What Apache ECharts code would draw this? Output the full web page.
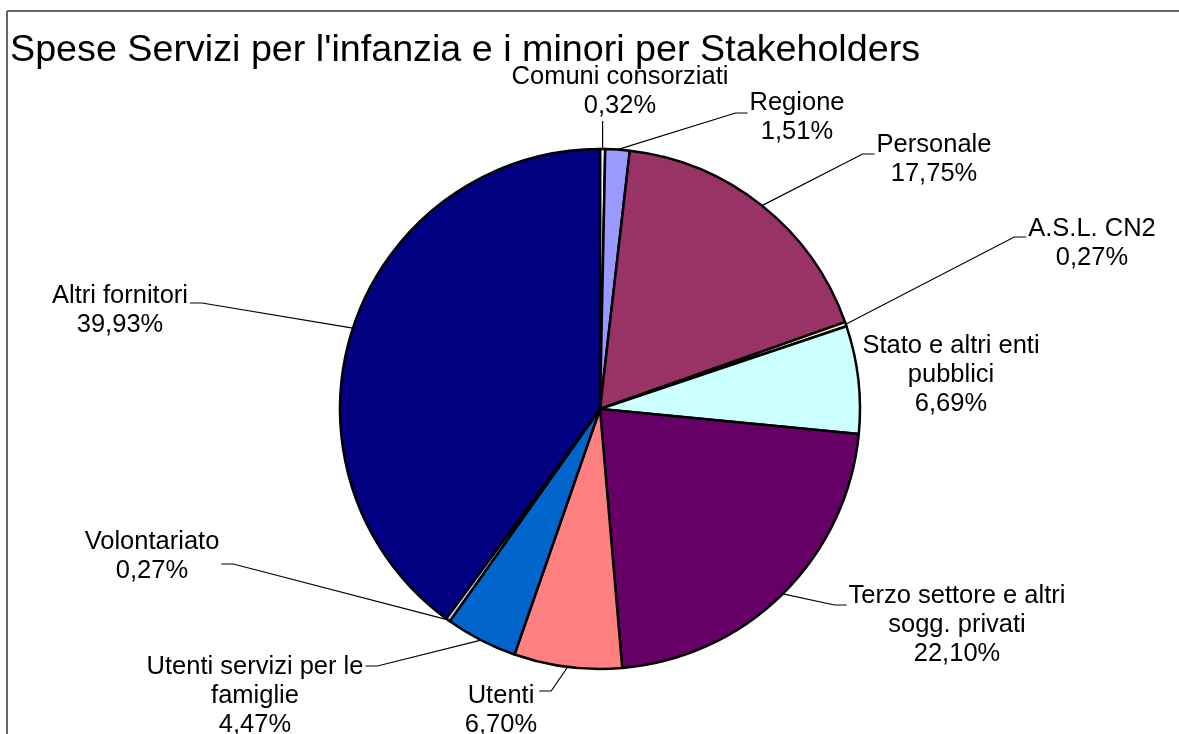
<!DOCTYPE html>
<html>
<head>
<meta charset="utf-8">
<script src="https://cdn.jsdelivr.net/npm/echarts@6/dist/echarts.min.js"></script>
<style>
html,body{margin:0;padding:0;background:#fff;}
#chart{width:1179px;height:734px;}
</style>
</head>
<body>
<div id="chart"></div>
<script>
// ---- data ----
const categories = [
  "Comuni consorziati",
  "Regione",
  "Personale",
  "A.S.L. CN2",
  "Stato e altri enti\npubblici",
  "Terzo settore e altri\nsogg. privati",
  "Utenti",
  "Utenti servizi per le\nfamiglie",
  "Volontariato",
  "Altri fornitori"
];
const shares = [0.32, 1.51, 17.75, 0.27, 6.69, 22.10, 6.70, 4.47, 0.27, 39.93];

// ---- styling / layout (separate from data) ----
const sliceColors = ["#F2F2FF", "#9999FF", "#993366", "#FFFFCC", "#CCFFFF",
                     "#660066", "#FF8080", "#0066CC", "#CCCCFF", "#000080"];
// label block centres (pixels), one per slice
const labelCenters = [
  [620, 91], [797, 117], [934, 159], [1092, 243], [951, 375],
  [957, 625], [501, 710], [255, 696], [152, 556], [120, 310]
];
// leader attach side and vertical offset from block centre
const leaderAttach = [
  ['bottom', 0], ['left', -4], ['left', -5], ['left', -6], ['none', 0],
  ['left', -20], ['right', -19], ['right', -30], ['right', 8], ['right', -7]
];

const FONT = "'Liberation Sans', Arial, sans-serif";
const CX = 600, CY = 409, R = 260;

const chart = echarts.init(document.getElementById('chart'), null, {renderer: 'canvas'});

const total = shares.reduce((a, b) => a + b, 0);
const midAngles = [];
let cum = 0;
shares.forEach(v => { midAngles.push((cum + v / 2) / total * 2 * Math.PI); cum += v; });

const pieData = categories.map((name, i) => ({
  name: name,
  value: shares[i],
  itemStyle: { color: sliceColors[i] },
  labelLine: { show: leaderAttach[i][0] !== 'none' }
}));

chart.setOption({
  animation: false,
  backgroundColor: '#ffffff',
  title: {
    text: "Spese Servizi per l'infanzia e i minori per Stakeholders",
    left: 10,
    top: 32,
    padding: 0,
    textStyle: { fontFamily: FONT, fontSize: 37.7, fontWeight: 'normal', color: '#000' }
  },
  graphic: [
    { type: 'line', shape: { x1: 7, y1: 11, x2: 1179, y2: 11 }, style: { stroke: '#666', lineWidth: 2 } },
    { type: 'line', shape: { x1: 7, y1: 11, x2: 7, y2: 734 }, style: { stroke: '#666', lineWidth: 2 } }
  ],
  series: [{
    type: 'pie',
    center: [CX, CY],
    radius: R,
    startAngle: 90,
    clockwise: true,
    avoidLabelOverlap: false,
    data: pieData,
    itemStyle: { borderColor: '#000', borderWidth: 2.5 },
    label: {
      show: true,
      position: 'outside',
      fontFamily: FONT,
      fontSize: 25.5,
      lineHeight: 29,
      color: '#000',
      align: 'center',
      formatter: p => p.name + '\n' + p.value.toFixed(2).replace('.', ',') + '%'
    },
    labelLine: {
      show: true,
      length: 20,
      length2: 12,
      lineStyle: { color: '#000', width: 1.2 }
    },
    emphasis: { disabled: true },
    labelLayout: function (params) {
      const i = params.dataIndex;
      const c = labelCenters[i];
      const w = params.labelRect.width, h = params.labelRect.height;
      const a = midAngles[i];
      const ax = CX + R * Math.sin(a), ay = CY - R * Math.cos(a);
      const side = leaderAttach[i][0], dy = leaderAttach[i][1];
      const out = { x: c[0], y: c[1], align: 'center', verticalAlign: 'middle' };
      if (side === 'bottom') {
        const by = c[1] + h / 2 + 1;
        out.labelLinePoints = [[ax, ay], [ax, by], [ax, by]];
      } else if (side === 'left') {
        const px = c[0] - w / 2 - 2, py = c[1] + dy;
        out.labelLinePoints = [[ax, ay], [px - 12, py], [px, py]];
      } else if (side === 'right') {
        const px = c[0] + w / 2 + 2, py = c[1] + dy;
        out.labelLinePoints = [[ax, ay], [px + 12, py], [px, py]];
      }
      return out;
    }
  }]
});
</script>
</body>
</html>
